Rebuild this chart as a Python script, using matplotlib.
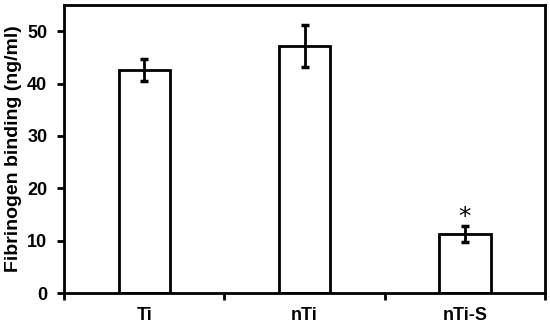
import matplotlib
matplotlib.use("Agg")
import matplotlib.pyplot as plt
import numpy as np

categories = ["Ti", "nTi", "nTi-S"]
values = [42.6, 47.1, 11.3]
errors = [2.1, 4.0, 1.5]
significant = [False, False, True]

plt.rcParams['font.family'] = ['Liberation Sans', 'DejaVu Sans']
plt.rcParams['font.weight'] = 'bold'

fig = plt.figure(figsize=(5.5, 3.26), dpi=100)
ax = fig.add_axes([0.1164, 0.1012, 0.8746, 0.8835])

x = np.arange(len(categories))
ax.bar(x, values, width=0.32, color='white', edgecolor='black', linewidth=2, zorder=2)
ax.errorbar(x, values, yerr=errors, fmt='none', ecolor='black', elinewidth=2,
            capsize=3, capthick=2.5, zorder=3)
for xi, v, e, s in zip(x, values, errors, significant):
    if s:
        ax.text(xi, v + e - 0.6, "*", ha='center', va='bottom', fontsize=18,
                fontweight='normal', family='DejaVu Sans')

ax.set_xlim(-0.5, len(categories) - 0.5)
ax.set_ylim(0, 55)
ax.set_yticks([0, 10, 20, 30, 40, 50])
ax.set_xticks(x)
ax.set_xticklabels(categories)
ax.set_xticks(np.arange(-0.5, len(categories), 1.0), minor=True)
ax.tick_params(axis='x', which='major', length=0, pad=10, labelsize=13)
ax.tick_params(axis='x', which='minor', length=5, width=2, direction='out')
ax.tick_params(axis='y', length=5, width=2, direction='out', labelsize=13, pad=7)
for sp in ax.spines.values():
    sp.set_linewidth(2)
ax.set_ylabel("Fibrinogen binding (ng/ml)", fontsize=14, fontweight='bold', labelpad=4)

fig.savefig("out.png", dpi=100)
